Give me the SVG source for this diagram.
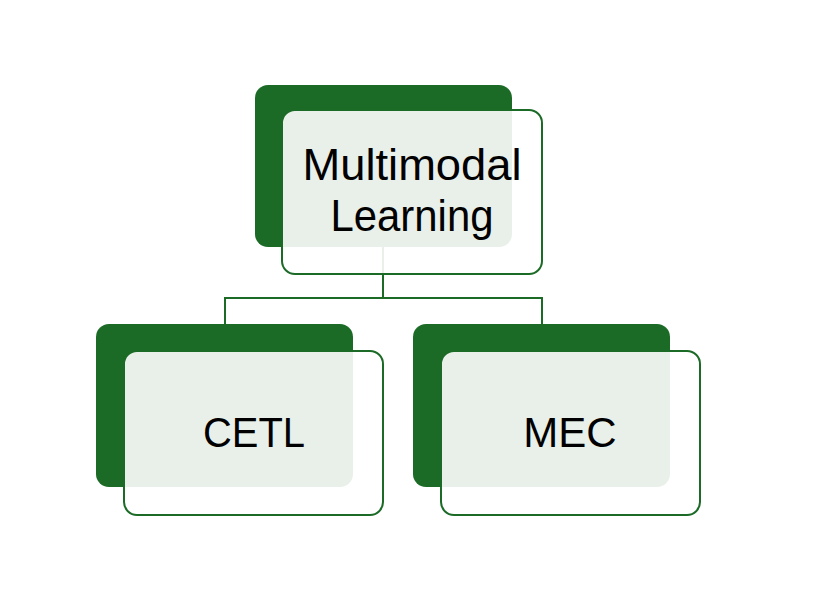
<svg xmlns="http://www.w3.org/2000/svg" width="826" height="591" viewBox="0 0 826 591">
<style>
.back{fill:#1b6b27}
.front{fill:#ffffff;fill-opacity:0.9;stroke:#1b6b27;stroke-width:2}
.conn{fill:none;stroke:#1b6b27;stroke-width:2}
.lbl{font-family:"Liberation Sans",Arial,sans-serif;fill:#000;text-anchor:middle}
</style>
<rect width="826" height="591" fill="#fff"/>
<g id="connectors">
<path class="conn" d="M383,247 V298 M225,298 H542 M225,297 V324 M542,297 V324"/>
</g>
<g id="node-multimodal">
<rect class="back" x="255" y="85" width="257" height="162" rx="13"/>
<rect class="front" x="282" y="110" width="260" height="164" rx="13"/>
<text class="lbl" x="412" y="180" font-size="45" textLength="219" lengthAdjust="spacingAndGlyphs">Multimodal</text>
<text class="lbl" x="412" y="231" font-size="45" textLength="163" lengthAdjust="spacingAndGlyphs">Learning</text>
</g>
<g id="node-cetl">
<rect class="back" x="96" y="324" width="257" height="163" rx="13"/>
<rect class="front" x="124" y="351" width="259" height="164" rx="13"/>
<text class="lbl" x="254" y="447" font-size="42" textLength="102" lengthAdjust="spacingAndGlyphs">CETL</text>
</g>
<g id="node-mec">
<rect class="back" x="413" y="324" width="257" height="163" rx="13"/>
<rect class="front" x="441" y="351" width="259" height="164" rx="13"/>
<text class="lbl" x="570" y="447" font-size="42">MEC</text>
</g>
</svg>
